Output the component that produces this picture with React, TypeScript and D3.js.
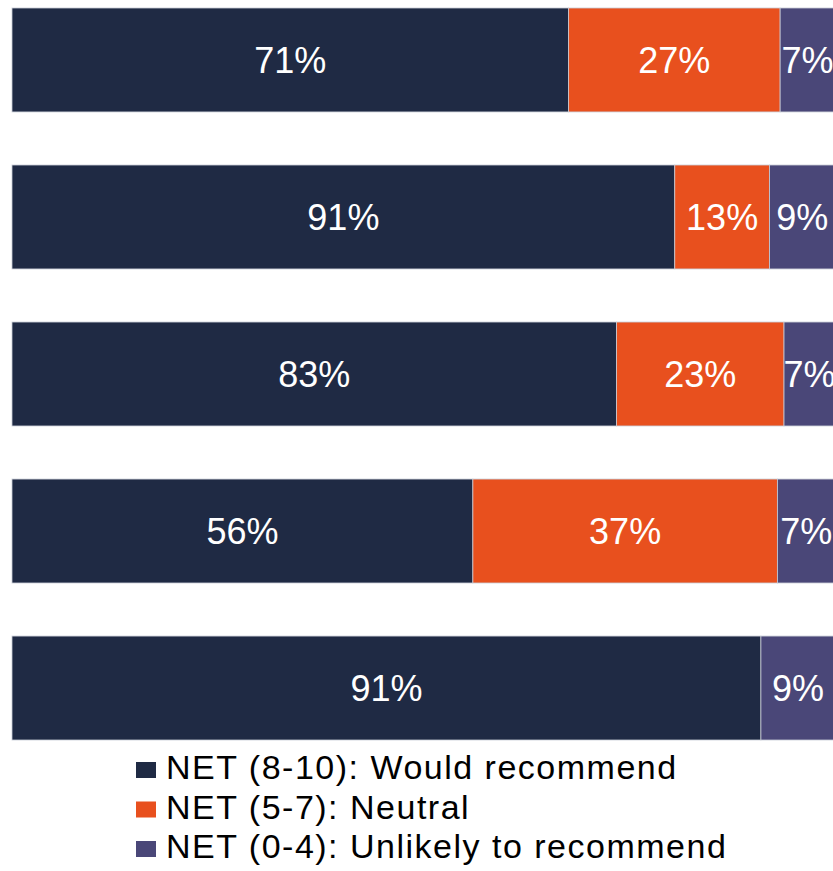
import React from "react";
import * as d3 from "d3";

const categories = ["Row 1", "Row 2", "Row 3", "Row 4", "Row 5"];
const seriesNames = [
  "NET (8-10): Would recommend",
  "NET (5-7): Neutral",
  "NET (0-4): Unlikely to recommend",
];
const recommend = [71, 91, 83, 56, 91];
const neutral = [27, 13, 23, 37, 0];
const unlikely = [7, 9, 7, 7, 9];
const colors = ["#1F2A44", "#E8501E", "#4A4778"];

const W = 833;
const H = 871;
const FONT = "Liberation Sans";

export default function App() {
  const values = [recommend, neutral, unlikely];
  const rows = categories.map((c, i) => {
    const o: any = { cat: c };
    seriesNames.forEach((s, k) => (o[s] = values[k][i]));
    return o;
  });
  const stack = d3
    .stack<any>()
    .keys(seriesNames)
    .offset(d3.stackOffsetExpand)(rows);

  const x = d3.scaleLinear().domain([0, 1]).range([12, 835]);
  const y = d3
    .scaleBand()
    .domain(categories)
    .range([8, 740])
    .paddingInner(0.338)
    .paddingOuter(0);

  return (
    <svg width={W} height={H} style={{ position: "absolute", left: 0, top: 0 }}>
      <rect x={0} y={0} width={W} height={H} fill="#fff" />
      {stack.map((layer, k) =>
        layer.map((d, i) => {
          const v = values[k][i];
          if (!v) return null;
          const x0 = x(d[0]);
          const x1 = x(d[1]);
          const yy = y(categories[i])!;
          const h = y.bandwidth();
          return (
            <g key={`${k}-${i}`}>
              <rect x={x0} y={yy} width={x1 - x0} height={h} fill={colors[k]} stroke="#c8ccd6" strokeWidth={0.8} />
              <text
                x={(x0 + x1) / 2}
                y={yy + h / 2 + 13}
                textAnchor="middle"
                fill="#fff"
                fontSize={36}
                fontFamily={FONT}
              >
                {v}%
              </text>
            </g>
          );
        })
      )}
      {seriesNames.map((s, k) => (
        <g key={s}>
          <rect x={136} y={762 + k * 39.5} width={20} height={16} fill={colors[k]} />
          <text
            x={166}
            y={779 + k * 39.5}
            fontSize={34}
            letterSpacing={1.5}
            fill="#000"
            fontFamily={FONT}
          >
            {s}
          </text>
        </g>
      ))}
    </svg>
  );
}
